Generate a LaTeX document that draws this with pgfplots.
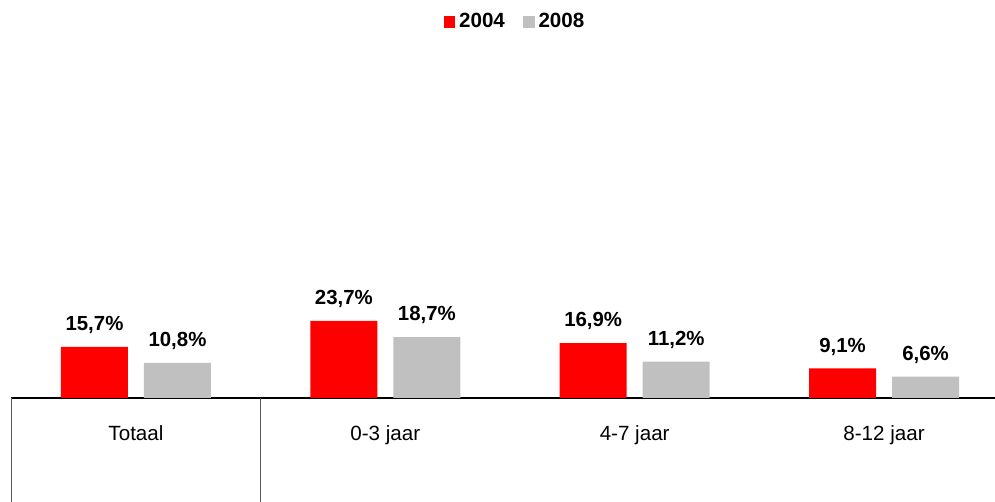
\documentclass[border=0pt]{standalone}
\usepackage{pgfplots}
\pgfplotsset{compat=1.18}
\usepackage{fontspec}
\setmainfont{Liberation Sans}
\definecolor{cred}{HTML}{FF0000}
\definecolor{cgray}{HTML}{C0C0C0}
\begin{document}
\begin{tikzpicture}
\begin{axis}[
  at={(0,0)}, anchor=south west,
  scale only axis,
  width=491.85pt, height=178.75pt,
  xmin=-0.5, xmax=3.445,
  ymin=0, ymax=110,
  clip=false,
  ybar=8pt, bar width=33.5pt,
  axis y line=none,
  axis x line*=bottom,
  x axis line style={black, line width=0.75pt, -},
  xtick={0,1,2,3},
  xticklabels={Totaal,0-3 jaar,4-7 jaar,8-12 jaar},
  major tick length=0pt,
  xticklabel style={anchor=base, yshift=-21.5pt, font=\fontsize{10.3}{12}\selectfont},
  /pgf/number format/assume math mode=true,
  nodes near coords={\pgfmathprintnumber[fixed,precision=1,fixed zerofill,use comma]{\pgfplotspointmeta}\%},
  nodes near coords style={font=\fontsize{10.2}{12}\selectfont\bfseries, yshift=3pt},
  legend style={draw=none, at={(0.513,1.052)}, anchor=center, legend columns=2,
    font=\fontsize{10.3}{12}\selectfont\bfseries,
    /tikz/every even column/.append style={column sep=7pt}},
  legend image code/.code={\fill[#1] (0pt,-2.9pt) rectangle (5.8pt,2.9pt);},
]
\addplot[fill=cred, draw=none] coordinates {(0,15.7) (1,23.7) (2,16.9) (3,9.1)};
\addplot[fill=cgray, draw=none] coordinates {(0,10.8) (1,18.7) (2,11.2) (3,6.6)};
\legend{2004,2008}
\draw[gray!70!black, line width=0.5pt] (axis cs:-0.5,0) -- ++(0pt,-52pt);
\draw[gray!70!black, line width=0.5pt] (axis cs:0.5,0) -- ++(0pt,-52pt);
\end{axis}
\pgfresetboundingbox
\useasboundingbox (-5.65pt,-52pt) rectangle (491.85pt,199pt);
\end{tikzpicture}
\end{document}
